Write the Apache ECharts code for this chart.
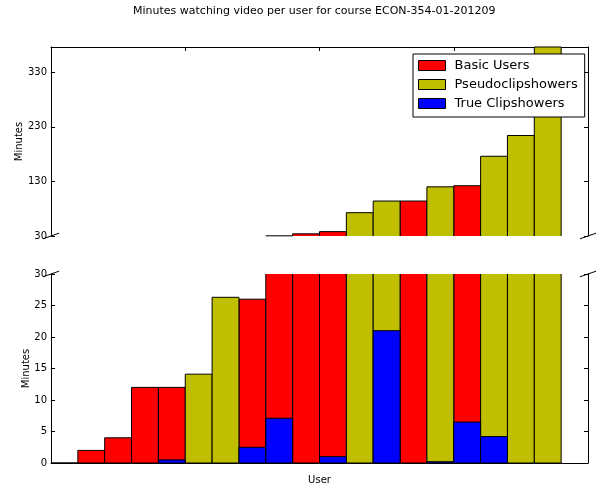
<!DOCTYPE html>
<html>
<head>
<meta charset="utf-8">
<script src="https://cdn.jsdelivr.net/npm/echarts@6/dist/echarts.min.js"></script>
<style>html,body{margin:0;padding:0;background:#fff}#c{width:597px;height:487px}</style>
</head>
<body>
<div id="c"></div>
<script>
// ---- data ----
var users = ['1','2','3','4','5','6','7','8','9','10','11','12','13','14','15','16','17','18','19','20'];
var basicUsers = [0, 2, 4, 12, 12, null, null, 26, 30.3, 34, 38, null, null, 94, null, 122, null, null, null, null];
var pseudoClipshowers = [null, null, null, null, null, 14.1, 26.3, null, null, null, null, 72.7, 94, null, 120, null, 176, 214, 376, null];
var trueClipshowers = [null, null, null, null, 0.5, null, null, 2.5, 7.1, null, 1.0, null, 21, null, 0.2, 6.5, 4.2, null, null, null];
var topTicks = { min: 30, max: 376, interval: 100 };
var bottomTicks = { min: 0, max: 30, interval: 5 };
var seriesNames = ['Basic Users', 'Pseudoclipshowers', 'True Clipshowers'];
var seriesColors = ['#ff0000', '#bfbf00', '#0000ff'];

// ---- layout ----
var L = 51, R = 9, W = 597 - L - R;
var topY = 47, H = 189, botY = 274;
var FONT = 'DejaVu Sans';

var chart = echarts.init(document.getElementById('c'), null, { renderer: 'canvas' });

function mkX(grid, pos, ticks, name) {
  return {
    type: 'category', gridIndex: grid, data: users, position: pos,
    boundaryGap: true,
    axisLine: { show: true, onZero: false, lineStyle: { color: '#000', width: 1 } },
    axisTick: ticks ? { show: true, inside: true, length: 4, lineStyle: { color: '#000' },
      interval: function (i) { return i > 0 && i % 5 === 0; } } : { show: false },
    axisLabel: { show: false },
    splitLine: { show: false },
    name: name || '', nameLocation: 'middle', nameGap: 12, nameMoveOverlap: false,
    nameTextStyle: { fontFamily: FONT, fontSize: 10, color: '#000' }
  };
}
function mkY(grid, pos, sc, labels, gap) {
  return {
    type: 'value', gridIndex: grid, position: pos,
    min: sc.min, max: sc.max, interval: sc.interval,
    axisLine: { show: true, onZero: false, lineStyle: { color: '#000', width: 1 } },
    axisTick: { show: true, inside: true, length: 4, lineStyle: { color: '#000' } },
    axisLabel: { show: labels, fontFamily: FONT, fontSize: 10, color: '#000', margin: 4, showMaxLabel: grid === 1 },
    splitLine: { show: false },
    name: labels ? 'Minutes' : '', nameLocation: 'middle', nameRotate: 90, nameGap: gap || 20,
    nameMoveOverlap: false,
    nameTextStyle: { fontFamily: FONT, fontSize: 10, color: '#000' }
  };
}

// bars drawn through the axes' scales, clipped to the panel, with edges only where not cut
function renderBar(params, api) {
  var idx = api.value(0), v = api.value(1);
  var cs = params.coordSys;
  var c = api.coord([idx, v]);
  var base = api.coord([idx, 0])[1];
  var w = api.size([1, 0])[0];
  var x0 = c[0] - w / 2, x1 = c[0] + w / 2;
  var yTop = c[1];
  var top = Math.max(yTop, cs.y), bot = Math.min(base, cs.y + cs.height);
  if (top > bot) return null;
  var color = api.visual('color');
  var ls = { stroke: '#000', lineWidth: 1, fill: null };
  var ch = [{ type: 'rect', shape: { x: x0, y: top, width: w, height: bot - top }, style: { fill: color } },
            { type: 'line', shape: { x1: x0, y1: top, x2: x0, y2: bot }, style: ls },
            { type: 'line', shape: { x1: x1, y1: top, x2: x1, y2: bot }, style: ls }];
  if (yTop >= cs.y - 0.01) ch.push({ type: 'line', shape: { x1: x0, y1: top, x2: x1, y2: top }, style: ls });
  if (base <= cs.y + cs.height + 0.01) ch.push({ type: 'line', shape: { x1: x0, y1: bot, x2: x1, y2: bot }, style: ls });
  return { type: 'group', children: ch };
}

var dataSets = [basicUsers, pseudoClipshowers, trueClipshowers];
var series = [];
[0, 1].forEach(function (g) {
  dataSets.forEach(function (arr, k) {
    var pts = [];
    arr.forEach(function (v, i) { if (v != null) pts.push([i, v]); });
    series.push({
      name: seriesNames[k], type: 'custom',
      xAxisIndex: g, yAxisIndex: g === 0 ? 0 : 2,
      data: pts, encode: { x: 0, y: 1 },
      renderItem: renderBar,
      itemStyle: { color: seriesColors[k], borderColor: '#000', borderWidth: 1 },
      emphasis: { disabled: true }, silent: true,
      z: 2 + k
    });
  });
});

function brk(x, y) {
  var dx = W * 0.015, dy = H * 0.015;
  return { type: 'line', z: 100, shape: { x1: x - dx, y1: y + dy, x2: x + dx, y2: y - dy },
    style: { stroke: '#000', lineWidth: 1 } };
}

chart.setOption({
  animation: false,
  backgroundColor: '#fff',
  title: {
    text: 'Minutes watching video per user for course ECON-354-01-201209',
    left: 133, top: 6, padding: 0,
    textStyle: { fontFamily: FONT, fontSize: 11, fontWeight: 'normal', color: '#000' }
  },
  legend: {
    orient: 'vertical', left: 413, top: 54,
    data: seriesNames,
    itemWidth: 27, itemHeight: 10, itemGap: 6,
    padding: [5, 7, 7, 5],
    backgroundColor: '#fff', borderColor: '#000', borderWidth: 1,
    icon: 'rect',
    itemStyle: { borderColor: '#000', borderWidth: 1 },
    textStyle: { fontFamily: FONT, fontSize: 13, color: '#000', padding: [0, 0, 0, 4] },
    z: 50
  },
  grid: [
    { left: L, top: topY, width: W, height: H, containLabel: false },
    { left: L, top: botY, width: W, height: H, containLabel: false }
  ],
  xAxis: [mkX(0, 'top', true), mkX(1, 'bottom', false, 'User')],
  yAxis: [mkY(0, 'left', topTicks, true, 27), mkY(0, 'right', topTicks, false),
          mkY(1, 'left', bottomTicks, true, 20), mkY(1, 'right', bottomTicks, false)],
  series: series,
  graphic: [brk(L, topY + H), brk(L + W, topY + H), brk(L, botY), brk(L + W, botY)]
});
</script>
</body>
</html>
